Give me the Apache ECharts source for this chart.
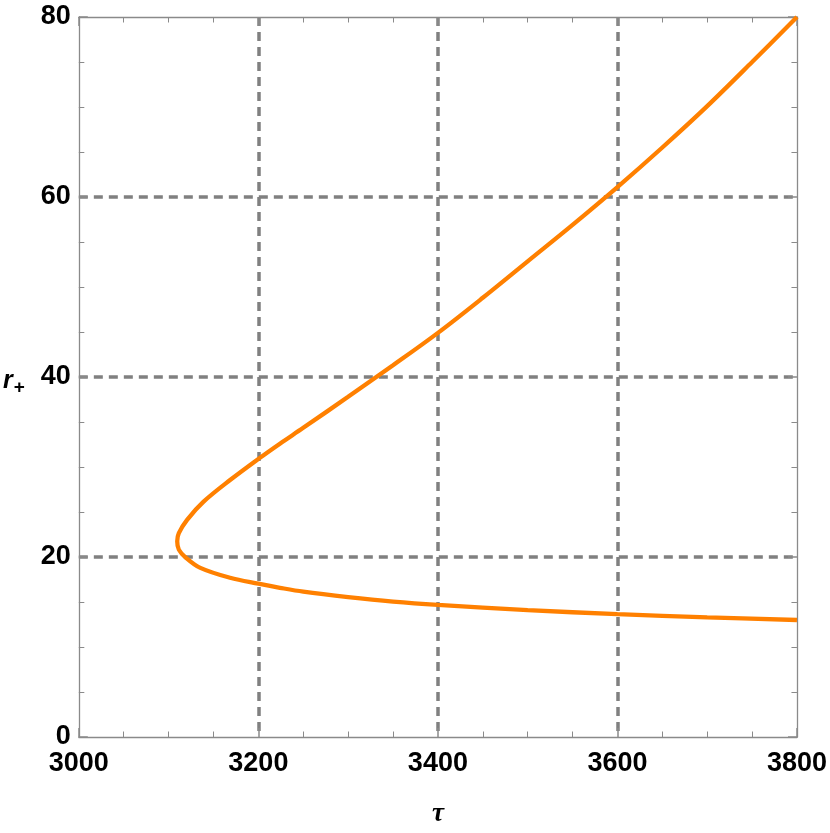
<!DOCTYPE html>
<html>
<head>
<meta charset="utf-8">
<script src="https://cdn.jsdelivr.net/npm/echarts@6/dist/echarts.min.js"></script>
<style>html,body{margin:0;padding:0;background:#fff}#c{width:830px;height:833px}</style>
</head>
<body>
<div id="c"></div>
<script>
// curve traced along its path: lower branch (right -> tip) then upper branch (tip -> right)
const tauValues = [3800, 3700, 3600, 3500, 3400, 3350, 3300, 3250, 3224, 3200, 3168.5, 3135.4, 3118.8, 3111.4, 3109.6, 3111.4, 3120.6, 3139, 3168.5, 3200.5, 3224, 3250, 3300, 3350, 3400, 3450, 3500, 3550, 3600, 3650, 3700, 3750, 3800];
const rValues   = [13.0, 13.3, 13.65, 14.1, 14.68, 15.05, 15.55, 16.15, 16.58, 17.03, 17.69, 18.79, 19.97, 20.82, 21.74, 22.65, 24.13, 26.15, 28.55, 30.93, 32.59, 34.35, 37.8, 41.3, 44.9, 48.8, 52.85, 56.9, 61.1, 65.5, 70.1, 75.0, 80.0];
const xTicks = [3000, 3200, 3400, 3600, 3800];
const yTicks = [0, 20, 40, 60, 80];

const points = tauValues.map((t, i) => [t, rValues[i]]);

const frameColor = '#8a8a8a';
const gridStyle = { color: '#808080', width: 3.5, type: [9, 6] };
const labelFont = { fontFamily: 'Liberation Sans', fontWeight: 'bold', fontSize: 27, color: '#000', formatter: v => String(v) };

function xAx(pos, main) {
  return {
    type: 'value', position: pos, min: xTicks[0], max: xTicks[xTicks.length - 1], interval: 200,
    axisLine: { show: true, onZero: false, lineStyle: { color: frameColor, width: 1.3 } },
    axisTick: { show: true, inside: true, length: 9, lineStyle: { color: frameColor, width: 1.5 } },
    minorTick: { show: true, splitNumber: 4, length: 5.5, lineStyle: { color: frameColor, width: 1 } },
    axisLabel: main ? Object.assign({ margin: 13, showMinLabel: true, showMaxLabel: true }, labelFont) : { show: false },
    splitLine: main ? { show: true, lineStyle: gridStyle, showMinLine: false, showMaxLine: false } : { show: false },
    name: main ? '{t|τ}' : '',
    nameLocation: 'middle', nameGap: 64,
    nameTextStyle: { rich: { t: { fontFamily: 'Liberation Serif', fontStyle: 'italic', fontWeight: 'bold', fontSize: 27, color: '#000' } } }
  };
}
function yAx(pos, main) {
  return {
    type: 'value', position: pos, min: yTicks[0], max: yTicks[yTicks.length - 1], interval: 20,
    axisLine: { show: true, onZero: false, lineStyle: { color: frameColor, width: 1.3 } },
    axisTick: { show: true, inside: true, length: 9, lineStyle: { color: frameColor, width: 1.5 } },
    minorTick: { show: true, splitNumber: 4, length: 5.5, lineStyle: { color: frameColor, width: 1 } },
    axisLabel: main ? Object.assign({ margin: 8, showMinLabel: true, showMaxLabel: true }, labelFont) : { show: false },
    splitLine: main ? { show: true, lineStyle: gridStyle, showMinLine: false, showMaxLine: false } : { show: false },
    name: main ? '{r|r}{s|+}' : '',
    nameLocation: 'middle', nameGap: 54, nameRotate: 0,
    nameTextStyle: { padding: [8, 0, 0, 0], rich: {
      r: { fontFamily: 'Liberation Sans', fontStyle: 'italic', fontWeight: 'bold', fontSize: 25, color: '#000' },
      s: { fontFamily: 'Liberation Sans', fontWeight: 'bold', fontSize: 19, color: '#000', padding: [14, 0, 0, 1] }
    } }
  };
}

const chart = echarts.init(document.getElementById('c'), null, { renderer: 'canvas' });
chart.setOption({
  animation: false,
  backgroundColor: '#fff',
  grid: { left: 74, right: 31, top: 17, bottom: 91, containLabel: false },
  xAxis: [xAx('bottom', true), xAx('top', false)],
  yAxis: [yAx('left', true), yAx('right', false)],
  series: [{
    type: 'line', xAxisIndex: 0, yAxisIndex: 0,
    data: points, showSymbol: false, smooth: 0.35, smoothMonotone: null,
    lineStyle: { color: '#ff8000', width: 4.3 }, clip: true, z: 5
  }]
});
</script>
</body>
</html>
